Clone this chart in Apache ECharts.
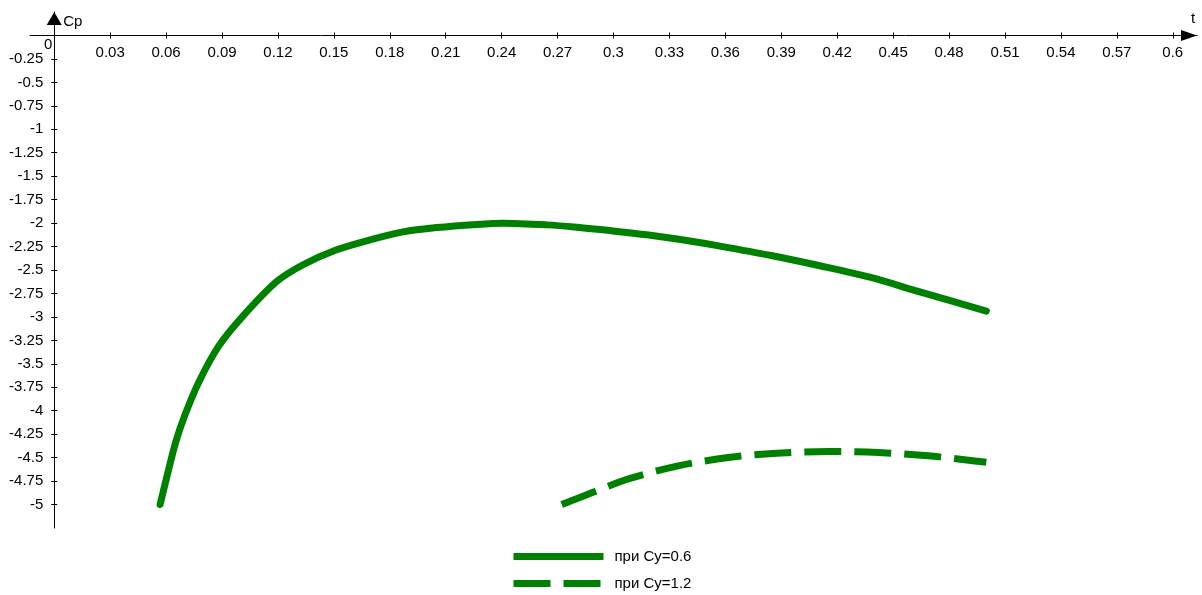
<!DOCTYPE html>
<html>
<head>
<meta charset="utf-8">
<script src="https://cdn.jsdelivr.net/npm/echarts@6/dist/echarts.min.js"></script>
<style>
  html, body { margin: 0; padding: 0; background: #fff; }
  #chart { width: 1202px; height: 595px; }
</style>
</head>
<body>
<div id="chart"></div>
<script>
// ---- data ----
const seriesNames = ['при Cy=0.6', 'при Cy=1.2'];

const tCy06 = [0.0568, 0.0601, 0.0651, 0.0699, 0.0774, 0.0882, 0.1011, 0.1194, 0.1335, 0.1515,
               0.1694, 0.1871, 0.2052, 0.2266, 0.2408, 0.2642, 0.2803, 0.2981, 0.3178, 0.3426,
               0.3571, 0.3839, 0.4107, 0.4375, 0.4643, 0.5000];
const cpCy06 = [-5.00, -4.729, -4.339, -4.056, -3.701, -3.312, -2.994, -2.622, -2.444, -2.285,
                -2.179, -2.094, -2.048, -2.014, -2.001, -2.019, -2.044, -2.080, -2.125, -2.197,
                -2.245, -2.343, -2.455, -2.577, -2.733, -2.938];

const tCy12 = [0.2722, 0.2901, 0.3088, 0.3347, 0.3616, 0.3875, 0.4152, 0.4420, 0.4688, 0.4938, 0.5000];
const cpCy12 = [-5.00, -4.86, -4.722, -4.588, -4.498, -4.453, -4.435, -4.445, -4.481, -4.535, -4.55];

const xTickLabels = [0.03, 0.06, 0.09, 0.12, 0.15, 0.18, 0.21, 0.24, 0.27, 0.3,
                     0.33, 0.36, 0.39, 0.42, 0.45, 0.48, 0.51, 0.54, 0.57, 0.6];
const yTickLabels = [-0.25, -0.5, -0.75, -1, -1.25, -1.5, -1.75, -2, -2.25, -2.5,
                     -2.75, -3, -3.25, -3.5, -3.75, -4, -4.25, -4.5, -4.75, -5];
const originLabel = '0';
const xAxisName = 't';
const yAxisName = 'Cp';

// ---- layout ----
const X_MIN = -0.013, X_MAX = 0.613;
const Y_MIN = -5.25, Y_MAX = 0.25;
const G = { left: 30, right: 5, top: 12, bottom: 67 };
const W = 1202, H = 595;
const gridW = W - G.left - G.right;
const gridH = H - G.top - G.bottom;
const zeroYOffset = gridH * Y_MAX / (Y_MAX - Y_MIN);       // grid top -> y = 0
const zeroXOffset = gridW * (0 - X_MIN) / (X_MAX - X_MIN); // grid left -> x = 0

const FONT = '"Liberation Sans", Arial, sans-serif';
const GREEN = '#008000';

const zip = (a, b) => a.map((v, i) => [v, b[i]]);

const chart = echarts.init(document.getElementById('chart'), null, { renderer: 'canvas' });

const baseX = { type: 'value', min: X_MIN, max: X_MAX, splitLine: { show: false } };
const baseY = { type: 'value', min: Y_MIN, max: Y_MAX, splitLine: { show: false } };
const tickLine = { color: '#000', width: 1 };

const option = {
  animation: false,
  backgroundColor: '#fff',
  grid: {
    left: G.left, right: G.right, top: G.top, bottom: G.bottom,
    containLabel: false, outerBoundsMode: 'none'
  },
  xAxis: [
    Object.assign({}, baseX, {
      position: 'top', offset: -zeroYOffset,
      axisLine: {
        show: true, onZero: false,
        lineStyle: { color: '#000', width: 1 },
        symbol: ['none', 'triangle'], symbolSize: [11, 16], symbolOffset: [0, -8]
      },
      axisTick: { show: true, inside: false, length: 3, customValues: xTickLabels, lineStyle: tickLine },
      axisLabel: { show: true, inside: true, margin: 10, customValues: xTickLabels, color: '#000',
                   fontSize: 15, fontFamily: FONT, verticalAlign: 'top' }
    }),
    Object.assign({}, baseX, {
      position: 'top', offset: -zeroYOffset,
      axisLine: { show: false, onZero: false },
      axisTick: { show: true, inside: true, length: 3, customValues: xTickLabels, lineStyle: tickLine },
      axisLabel: { show: false }
    })
  ],
  yAxis: [
    Object.assign({}, baseY, {
      position: 'left', offset: -zeroXOffset,
      axisLine: {
        show: true, onZero: false,
        lineStyle: { color: '#000', width: 1 },
        symbol: ['none', 'triangle'], symbolSize: [15, 13], symbolOffset: [0, -6.5]
      },
      axisTick: { show: true, inside: false, length: 3, customValues: yTickLabels, lineStyle: tickLine },
      axisLabel: { show: true, margin: 11, customValues: yTickLabels, color: '#000', fontSize: 15, fontFamily: FONT }
    }),
    Object.assign({}, baseY, {
      position: 'left', offset: -zeroXOffset,
      axisLine: { show: false, onZero: false },
      axisTick: { show: true, inside: true, length: 3, customValues: yTickLabels, lineStyle: tickLine },
      axisLabel: { show: false }
    })
  ],
  legend: {
    orient: 'vertical',
    left: 510, top: 549, height: 60, padding: 0,
    itemWidth: 90, itemHeight: 16, itemGap: 12,
    itemStyle: { opacity: 0 },
    lineStyle: { width: 7, cap: 'butt' },
    textStyle: { color: '#000', fontSize: 15, fontFamily: FONT, padding: [0, 0, 0, 6] },
    data: seriesNames
  },
  series: [
    {
      name: seriesNames[0], type: 'line', xAxisIndex: 0, yAxisIndex: 0,
      data: zip(tCy06, cpCy06),
      symbol: 'none', showSymbol: false, smooth: 0.3,
      lineStyle: { color: GREEN, width: 7, cap: 'round', join: 'round' },
      itemStyle: { color: GREEN }
    },
    {
      name: seriesNames[1], type: 'line', xAxisIndex: 0, yAxisIndex: 0,
      data: zip(tCy12, cpCy12),
      symbol: 'none', showSymbol: false, smooth: 0.3,
      lineStyle: { color: GREEN, width: 7, type: [37, 13], cap: 'butt' },
      itemStyle: { color: GREEN }
    }
  ]
};
chart.setOption(option);

// axis names and origin label placed relative to the axes' pixel positions
const origin = chart.convertToPixel({ xAxisIndex: 0, yAxisIndex: 0 }, [0, 0]);
chart.setOption({
  graphic: [
    { type: 'text', x: origin[0] - 2, y: origin[1] + 9,
      style: { text: originLabel, fill: '#000', font: '15px ' + FONT, align: 'right', verticalAlign: 'middle' } },
    { type: 'text', x: origin[0] + 9, y: G.top + 10,
      style: { text: yAxisName, fill: '#000', font: '15px ' + FONT, align: 'left', verticalAlign: 'middle' } },
    { type: 'text', x: W - G.right - 4, y: G.top + 7,
      style: { text: xAxisName, fill: '#000', font: '15px ' + FONT, align: 'center', verticalAlign: 'middle' } }
  ]
});
</script>
</body>
</html>
